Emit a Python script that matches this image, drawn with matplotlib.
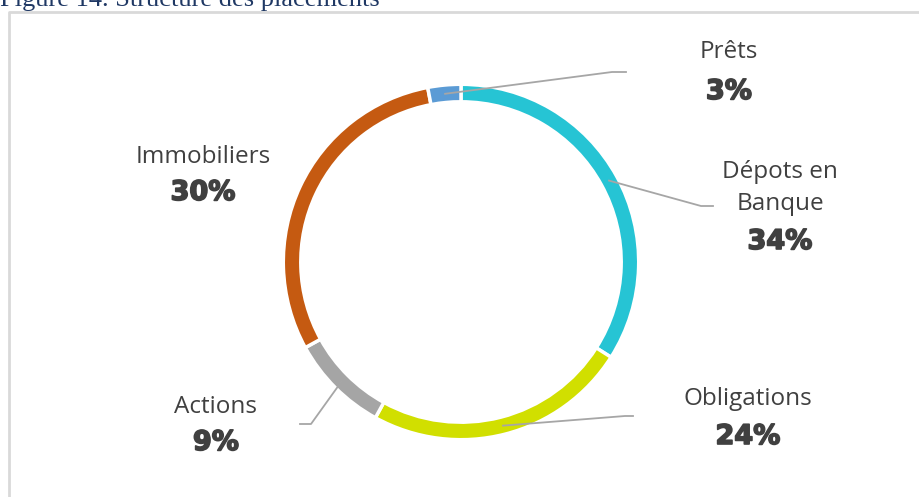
import matplotlib.pyplot as plt
import matplotlib.patheffects as pe
import numpy as np

# donut chart: structure des placements
labels = ['Dépots en\nBanque', 'Obligations', 'Actions', 'Immobiliers', 'Prêts']
values = [34, 24, 9, 30, 3]
colours = ['#26C4D4', '#D1DF00', '#A5A5A5', '#C55A11', '#5B9BD5']

W, H = 920, 497
fig = plt.figure(figsize=(W / 100, H / 100), dpi=100)
ax = fig.add_axes([0, 0, 1, 1])

# image coords helper (y measured from top)
def iy(y):
    return H - y

cx, cy = 461, iy(262)
# white edges eat into the ring, so draw it a bit wider
r = 177.7
ring = 17.5

wedges, _ = ax.pie(values, colors=colours, startangle=90, counterclock=False,
                   center=(cx, cy), radius=r, frame=True,
                   wedgeprops=dict(width=ring, edgecolor='white', linewidth=2.5))

ax.set_xlim(0, W)
ax.set_ylim(0, H)
ax.set_aspect('equal')
ax.axis('off')

# frame around the chart
ax.plot([9, 9, W + 5], [-5, iy(12), iy(12)], color='#D9D9D9', lw=2, clip_on=False)

# title (cut at the top, as in the report)
ax.text(0, iy(6), 'Figure 14. Structure des placements', fontsize=19,
        family='Liberation Serif', color='#1F3864', va='baseline', ha='left')

# label layout: name position, percent position, leader elbow points
label_pos = [(780, 188), (748, 399), (216, 407), (203, 157), (729, 52)]
pct_pos = [(780, 242), (748, 437), (216, 443), (203, 193), (729, 92)]
leaders = [[(701, 206), (713, 206)],
           [(625, 416), (633, 416)],
           [(311, 424), (300, 424)],
           None,
           [(612, 72), (626, 72)]]

text_col = '#404040'
heavy = [pe.withStroke(linewidth=1.2, foreground=text_col)]
for w, lab, v, lp, pp, ld in zip(wedges, labels, values, label_pos, pct_pos, leaders):
    ax.text(lp[0], iy(lp[1]), lab, ha='center', va='center', fontsize=17.5,
            family='Open Sans', color=text_col, linespacing=1.45)
    ax.text(pp[0], iy(pp[1]), f'{v}%', ha='center', va='center', fontsize=19.5,
            family='DejaVu Sans', weight='bold', color=text_col, path_effects=heavy)
    if ld is not None:
        mid = np.deg2rad((w.theta1 + w.theta2) / 2)
        rr = r - ring / 2
        xs = [cx + rr * np.cos(mid)] + [p[0] for p in ld]
        ys = [cy + rr * np.sin(mid)] + [iy(p[1]) for p in ld]
        ax.plot(xs, ys, color='#A6A6A6', lw=1.3)

fig.savefig('out.png', dpi=100)
